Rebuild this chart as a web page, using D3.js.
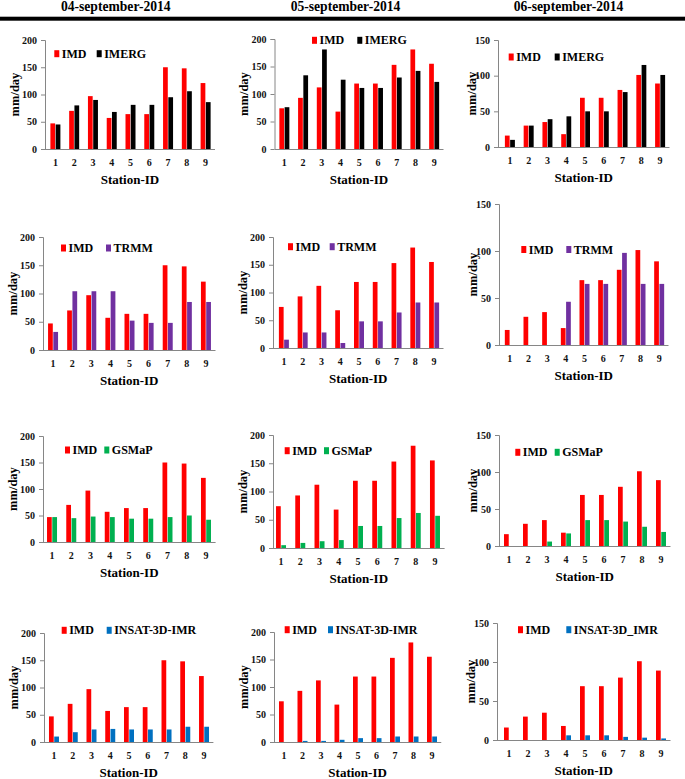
<!DOCTYPE html>
<html><head><meta charset="utf-8">
<script src="https://cdn.jsdelivr.net/npm/d3@7"></script>
<style>
body{margin:0;background:#fff;}
svg{display:block;font-family:"Liberation Serif","Times New Roman",serif;font-weight:bold;}
</style></head>
<body>
<svg id="chart" width="685" height="779"></svg>
<script>
// ---------- data ----------
const stations = ["1","2","3","4","5","6","7","8","9"];
const dates = ["04-september-2014","05-september-2014","06-september-2014"];
const yMaxByDate = [200, 200, 150];
const yTicks200 = [0,50,100,150,200];
const yTicks150 = [0,50,100,150];

const imd04 = [47,70,97,57,64,64,150,148,121];
const imd05 = [74,93,112,68,119,119,153,181,155];
const imd06 = [16,30,35,18,69,69,80,101,89];

const imerg04 = [45,80,90,68,81,81,95,106,86];
const imerg05 = [76,134,181,126,111,111,130,142,122];
const imerg06 = [10,30,39,43,50,50,77,115,101];

const trmm04 = [32,104,104,104,52,48,48,85,85];
const trmm05 = [15,28,28,9,48,48,64,82,82];
const trmm06 = [0,0,0,46,65,65,98,65,65];

const gsmap04 = [47,45,48,47,44,44,47,50,42];
const gsmap05 = [5,9,12,14,39,39,53,62,57];
const gsmap06 = [0,0,6,17,35,35,33,26,19];

const insat04 = [10,18,23,24,23,23,23,28,28];
const insat05 = [0,2,2,4,7,7,10,10,10];
const insat06 = [0,0,0,6,6,6,4,3,2];

const imdSeries = [imd04, imd05, imd06];
const productNames = ["IMERG","TRMM","GSMaP","INSAT-3D-IMR"];
const productLegend = [
  ["IMERG","IMERG","IMERG"],
  ["TRMM","TRMM","TRMM"],
  ["GSMaP","GSMaP","GSMaP"],
  ["INSAT-3D-IMR","INSAT-3D-IMR","INSAT-3D_IMR"]
];
const productSeries = [
  [imerg04, imerg05, imerg06],
  [trmm04, trmm05, trmm06],
  [gsmap04, gsmap05, gsmap06],
  [insat04, insat05, insat06]
];
const productColors = ["#000000","#7030A0","#00B050","#0070C0"];
const imdColor = "#FF0000";

// ---------- layout (per panel geometry) ----------
const layout = [
  [ {ax:45,xL:46,xR:215,yT:40,yB:149,l1:54.3,l2:96.7,lY:53.7},
    {ax:274.5,xL:275,xR:443.5,yT:39,yB:149,l1:312,l2:357.3,lY:40.3},
    {ax:498,xL:500.5,xR:669.5,yT:40,yB:147,l1:508.7,l2:554.7,lY:57} ],
  [ {ax:43,xL:43.5,xR:215.5,yT:237,yB:350,l1:61,l2:106,lY:248},
    {ax:273,xL:274.5,xR:443.5,yT:237,yB:348,l1:288,l2:329.7,lY:246.7},
    {ax:499,xL:500.5,xR:668.5,yT:204,yB:345,l1:521.3,l2:566.3,lY:249.5} ],
  [ {ax:43,xL:42.4,xR:215.6,yT:436,yB:542,l1:65,l2:104.3,lY:450},
    {ax:273,xL:271.4,xR:444.6,yT:435,yB:548,l1:284.7,l2:324,lY:450.7},
    {ax:499,xL:499.5,xR:670.5,yT:435,yB:546,l1:515.3,l2:554.7,lY:452.3} ],
  [ {ax:44,xL:44.6,xR:213.4,yT:633,yB:742,l1:61.7,l2:106.7,lY:630.3},
    {ax:274,xL:274.75,xR:441.25,yT:632,yB:742,l1:284.7,l2:328,lY:629.7},
    {ax:497,xL:499.5,xR:670.5,yT:623,yB:740,l1:518,l2:566.3,lY:629.7} ]
];
const titleX = [115.8, 345.5, 568.5];

const svg = d3.select("#chart");
const axisColor = "#868686";
const serif = "Liberation Serif";

// titles and header rule
dates.forEach((d,i)=>{
  svg.append("text").attr("x",titleX[i]).attr("y",10.5)
    .attr("text-anchor","middle").attr("font-size",13.6).attr("font-family",serif)
    .attr("fill","#000").text(d);
});
svg.append("rect").attr("x",0).attr("y",16.7).attr("width",685).attr("height",4).attr("fill","#000");

productNames.forEach((pname, r)=>{
  dates.forEach((dname, c)=>{
    const L = layout[r][c];
    const g = svg.append("g");
    const yMax = yMaxByDate[c];
    const y = d3.scaleLinear().domain([0,yMax]).range([L.yB, L.yT]);
    const x0 = d3.scaleBand().domain(stations).range([L.xL, L.xR]).padding(0);
    const keys = ["IMD", pname];
    const x1 = d3.scaleBand().domain(keys).range([0,10]).paddingInner(0.1).paddingOuter(0);
    const imd = imdSeries[c];
    const prod = productSeries[r][c];
    const colors = [imdColor, productColors[r]];

    // bars
    const rows = stations.map((s,i)=>({s, vals:[imd[i], prod[i]]}));
    const grp = g.selectAll("g.st").data(rows).join("g")
      .attr("transform", d=>`translate(${x0(d.s)+x0.bandwidth()/2-5},0)`);
    grp.selectAll("rect").data(d=>d.vals.map((v,k)=>({k:keys[k],v,col:colors[k]})))
      .join("rect")
      .attr("x", d=>x1(d.k)).attr("width", x1.bandwidth())
      .attr("y", d=>y(d.v)).attr("height", d=>y(0)-y(d.v))
      .attr("fill", d=>d.col);

    // y axis
    const yAxis = d3.axisLeft(y).tickValues(yMax===200?yTicks200:yTicks150).tickSize(4).tickPadding(4);
    const ya = g.append("g").attr("transform",`translate(${L.ax},0)`).call(yAxis);
    ya.attr("font-family",serif);
    ya.select(".domain").attr("stroke",axisColor).attr("d",`M-4,${L.yT+0.5}H0.5V${L.yB}`);
    ya.selectAll(".tick line").attr("stroke",axisColor);
    ya.selectAll(".tick text").attr("font-size",10).attr("fill","#111")
      .attr("font-family",serif).attr("font-weight","bold");

    // x axis
    const xAxis = d3.axisBottom(x0).tickSize(0).tickPadding(10);
    const xa = g.append("g").attr("transform",`translate(0,${L.yB})`).call(xAxis);
    xa.attr("font-family",serif);
    xa.select(".domain").attr("stroke",axisColor).attr("d",`M${L.ax},0.5H${L.xR}`);
    xa.selectAll(".tick text").attr("font-size",10).attr("fill","#111")
      .attr("font-family",serif).attr("font-weight","bold");

    // axis titles
    g.append("text").attr("x",(L.ax+L.xR)/2).attr("y",L.yB+34.5)
      .attr("text-anchor","middle").attr("font-size",13).attr("font-family",serif)
      .attr("fill","#000").text("Station-ID");
    const mmX = L.ax - (yMax===200 ? 31 : 27);
    const mmY = (L.yT+L.yB)/2;
    g.append("text").attr("transform",`translate(${mmX+4.5},${mmY}) rotate(-90)`)
      .attr("text-anchor","middle").attr("font-size",12.5).attr("font-family",serif)
      .attr("fill","#000").text("mm/day");

    // legend
    const legItems = [{x:L.l1,label:"IMD",col:imdColor},{x:L.l2,label:productLegend[r][c],col:productColors[r]}];
    legItems.forEach(it=>{
      g.append("rect").attr("x",it.x).attr("y",L.lY-3.5).attr("width",5).attr("height",7).attr("fill",it.col);
      g.append("text").attr("x",it.x+7.5).attr("y",L.lY+4).attr("font-size",12).attr("font-family",serif)
        .attr("fill","#000").text(it.label);
    });
  });
});
</script>
</body></html>
